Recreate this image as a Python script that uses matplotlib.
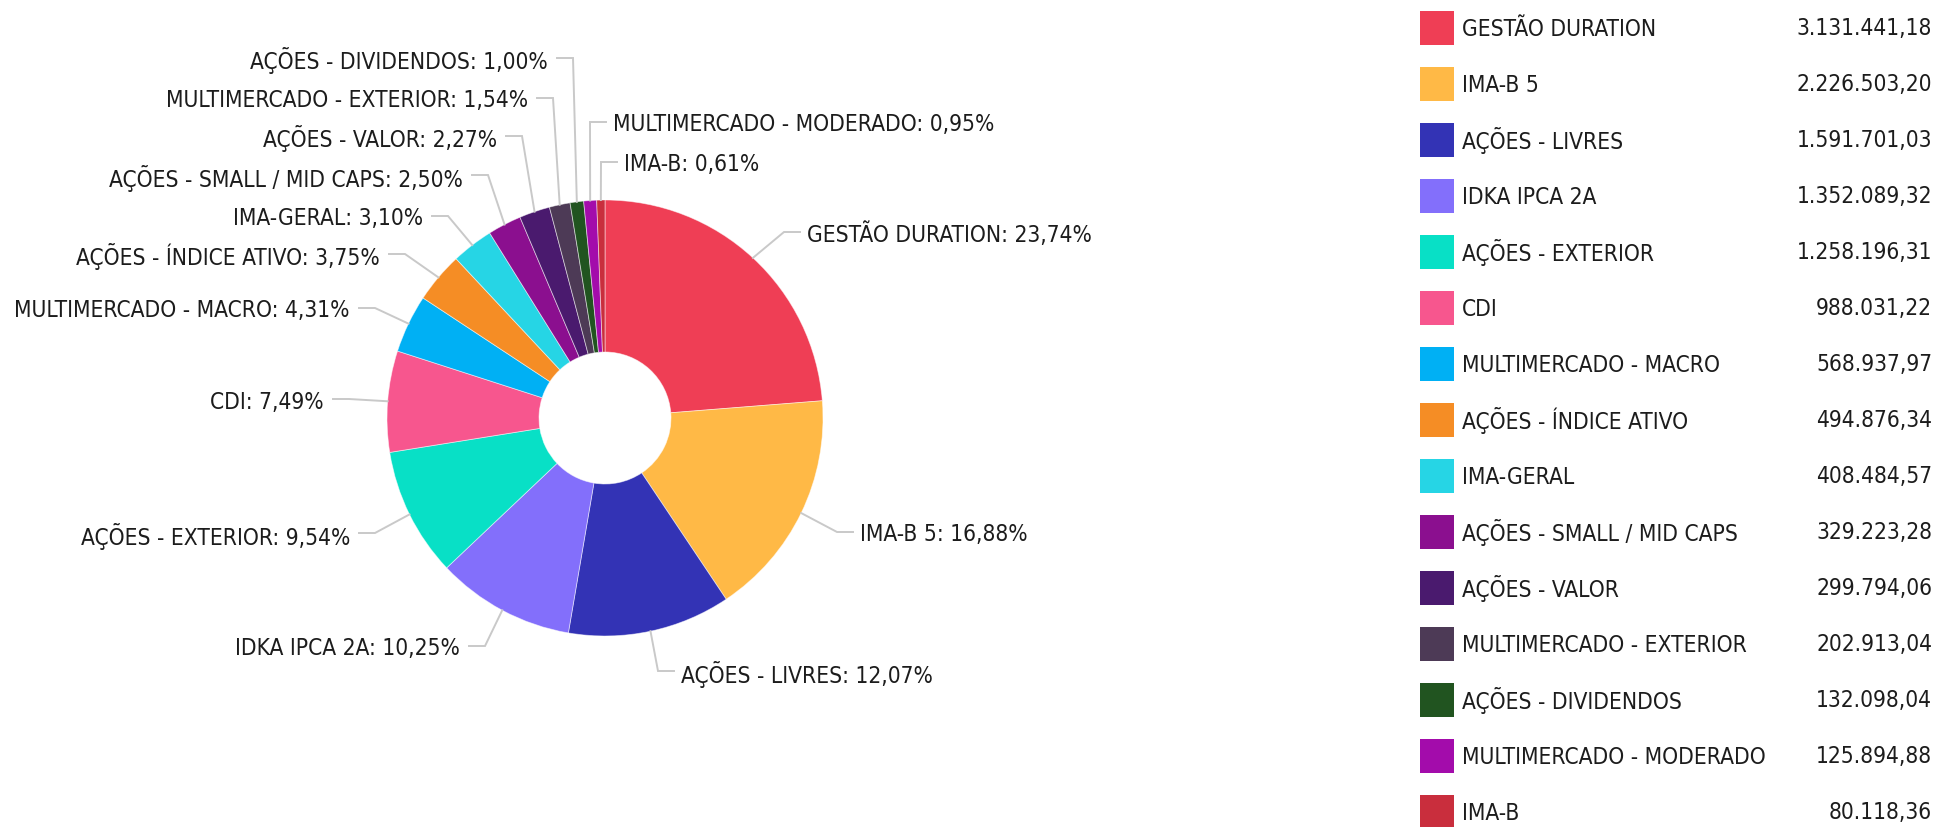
import matplotlib.pyplot as plt
from matplotlib.patches import Rectangle
import numpy as np

labels = ["GESTÃO DURATION", "IMA-B 5", "AÇÕES - LIVRES", "IDKA IPCA 2A",
          "AÇÕES - EXTERIOR", "CDI", "MULTIMERCADO - MACRO", "AÇÕES - ÍNDICE ATIVO",
          "IMA-GERAL", "AÇÕES - SMALL / MID CAPS", "AÇÕES - VALOR",
          "MULTIMERCADO - EXTERIOR", "AÇÕES - DIVIDENDOS", "MULTIMERCADO - MODERADO", "IMA-B"]
values = [3131441.18, 2226503.20, 1591701.03, 1352089.32, 1258196.31, 988031.22,
          568937.97, 494876.34, 408484.57, 329223.28, 299794.06, 202913.04,
          132098.04, 125894.88, 80118.36]
colors = ["#ef3e55", "#ffb946", "#3333b5", "#836ffb", "#08e0c6", "#f7568e",
          "#00b0f4", "#f58d25", "#26d5e5", "#8b0f8f", "#4a1a6e", "#4d3a56",
          "#215420", "#a30cab", "#c92e3d"]

# leader line elbows (pixel layout) and on which side the text sits
elbow_x = [784, 837, 658, 485, 375, 349, 375, 405, 448, 488, 522, 553, 573, 590, 601]
elbow_y = [232, 532, 671, 646, 533, 399, 308, 254, 216, 175, 136, 98, 58, 122, 162]
side = ["r", "r", "r", "l", "l", "l", "l", "l", "l", "l", "l", "l", "l", "r", "r"]

W, H = 1937, 827
CX, CY, R, HOLE = 605, 418, 218, 66
TXT = "#1c1c1c"
LINE = "#c9c9c9"
FS = 16.3

plt.rcParams['font.family'] = ['DejaVu Sans']
plt.rcParams['font.stretch'] = 'condensed'

fig = plt.figure(figsize=(W / 100, H / 100), dpi=100)
ax = fig.add_axes([0, 0, 1, 1])

# y axis is flipped below, so counterclock in data = clockwise on screen
wedges, _ = ax.pie(values, colors=colors, startangle=-90, counterclock=True,
                   radius=R, center=(CX, CY),
                   wedgeprops=dict(width=R - HOLE, edgecolor=(1, 1, 1, 0.55), linewidth=0.6))
ax.set_xlim(0, W)
ax.set_ylim(H, 0)
ax.set_aspect('equal')
ax.axis('off')

total = sum(values)
for w, lab, v, ex, ey, s in zip(wedges, labels, values, elbow_x, elbow_y, side):
    mid = np.deg2rad((w.theta1 + w.theta2) / 2)
    sx, sy = CX + R * np.cos(mid), CY + R * np.sin(mid)
    hx = ex + 16 if s == "r" else ex - 16
    ax.plot([sx, ex, hx], [sy, ey, ey], color=LINE, lw=1.4, solid_joinstyle='miter', zorder=1)
    pct = f"{100 * v / total:.2f}".replace(".", ",")
    tx = hx + 7 if s == "r" else hx - 9
    ax.text(tx, ey + 3, f"{lab}: {pct}%", ha="left" if s == "r" else "right",
            va="center", fontsize=FS, color=TXT, fontstretch='condensed')

# legend on the right
for i, (lab, v, c) in enumerate(zip(labels, values, colors)):
    y = 28 + 56 * i
    ax.add_patch(Rectangle((1420, y - 17), 34, 34, color=c, lw=0))
    ax.text(1462, y + 1, lab, ha="left", va="center", fontsize=FS, color=TXT,
            fontstretch='condensed')
    val = f"{v:,.2f}".replace(",", "X").replace(".", ",").replace("X", ".")
    ax.text(1932, y + 1, val, ha="right", va="center", fontsize=FS, color=TXT,
            fontstretch='condensed')

fig.savefig("out.png", dpi=100)
